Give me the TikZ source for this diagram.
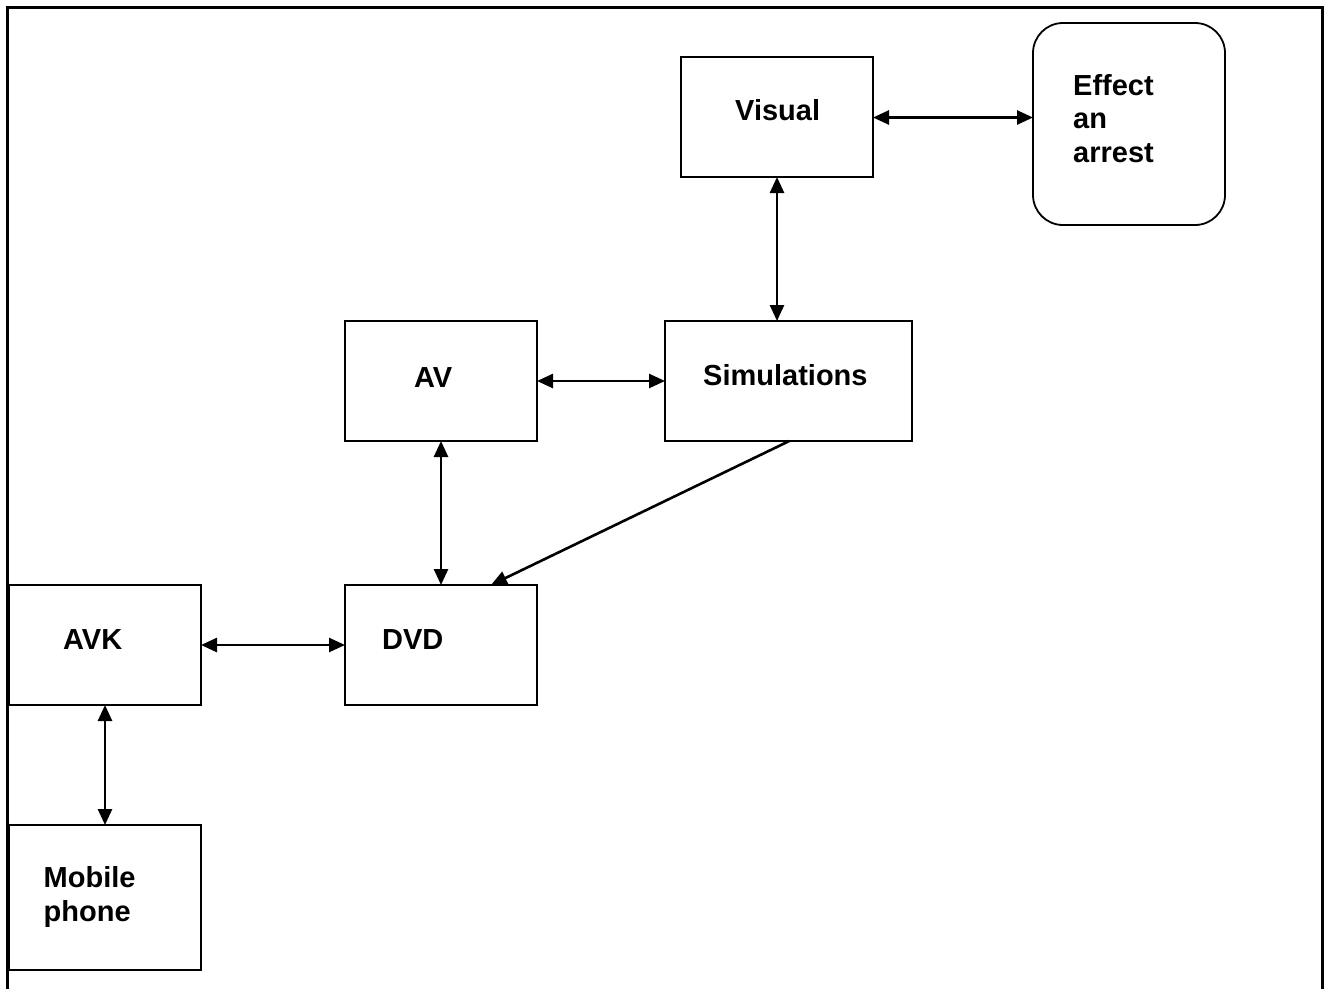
\documentclass[tikz,border=0pt]{standalone}
\usepackage{fontspec}
\setmainfont{Liberation Sans}
\usetikzlibrary{arrows.meta}
\begin{document}
\begin{tikzpicture}[x=1pt,y=-1pt,
  box/.style={draw=black, line width=1.8pt, minimum width=192pt, minimum height=120pt, inner sep=0pt, outer sep=0pt},
  lbl/.style={anchor=base west, inner sep=0pt, font=\fontsize{29}{34}\selectfont\bfseries},
  tip/.style={Triangle[length=16pt,width=14pt]},
  link/.style={line width=2.6pt, {Triangle[length=16pt,width=14pt]}-{Triangle[length=16pt,width=14pt]}},
  onelink/.style={line width=2.6pt, -{Triangle[length=16pt,width=14pt]}}]
\useasboundingbox (0,0) rectangle (1330,988);
% outer frame
\coordinate (fbl) at (7.5,995);
\coordinate (ftl) at (7.5,7.5);
\coordinate (ftr) at (1322.5,7.5);
\coordinate (fbr) at (1322.5,995);
\draw[line width=2.2pt] (fbl) -- (ftl) -- (ftr) -- (fbr);
% boxes
\node[box] (vis) at (777,117) {};
\node[box, minimum height=202pt, rounded corners=30pt] (eff) at (1129,124) {};
\node[box] (av) at (441,381) {};
\node[box, minimum width=247pt] (sim) at (788.5,381) {};
\node[box] (avk) at (105,645) {};
\node[box] (dvd) at (441,645) {};
\node[box, minimum height=145pt] (mob) at (105,897.5) {};
% labels
\node[lbl] (visT) at (735,120.7) {Visual};
\node[lbl] (effT1) at (1073,95) {Effect};
\node[lbl] (effT2) at (1073,128.5) {an};
\node[lbl] (effT3) at (1073,162) {arrest};
\node[lbl] (avT) at (414,387.3) {AV};
\node[lbl] (simT) at (703,385.5) {Simulations};
\node[lbl] (avkT) at (63,649.3) {AVK};
\node[lbl] (dvdT) at (382,649.3) {DVD};
\node[lbl] (mobT1) at (43.5,887.7) {Mobile};
\node[lbl] (mobT2) at (43.5,921.7) {phone};
% connectors
\draw[link] (vis.east |- 0,117.5) -- (eff.west |- 0,117.5);
\draw[link] (vis.south) -- (vis.south |- sim.north);
\draw[link] (av.east) -- (sim.west);
\draw[link] (av.south) -- (dvd.north);
\coordinate (dvdin) at ([xshift=50pt]dvd.north);
\draw[onelink] ([xshift=0.8pt]sim.south) -- (dvdin);
\draw[link] (avk.east) -- (dvd.west);
\draw[link] (avk.south) -- (mob.north);
\end{tikzpicture}
\end{document}
